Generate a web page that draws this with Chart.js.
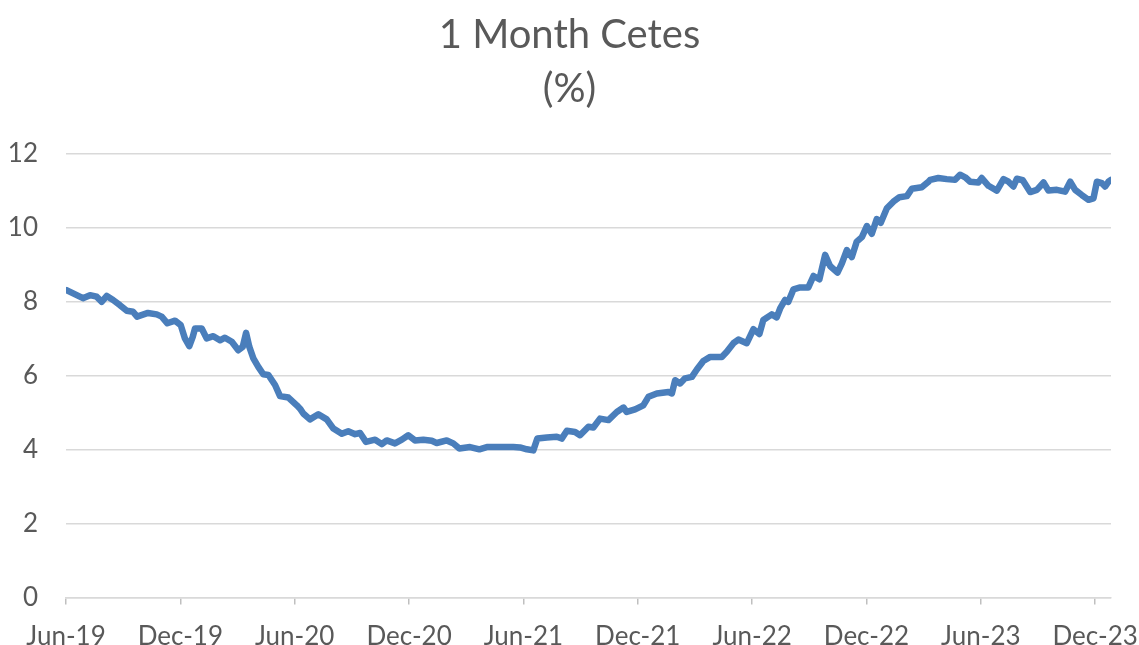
<!DOCTYPE html>
<html>
<head>
<meta charset="utf-8">
<script src="https://cdn.jsdelivr.net/npm/chart.js@4.4.1/dist/chart.umd.min.js"></script>
<style>
  html, body { margin: 0; padding: 0; background: #fff; }
  #wrap { width: 1139px; height: 645px; position: relative; }
</style>
</head>
<body>
<div id="wrap"><canvas id="chart"></canvas></div>
<script>
// x tick labels, one every 6 months starting Jun-19
const tickLabels = ['Jun-19', 'Dec-19', 'Jun-20', 'Dec-20', 'Jun-21', 'Dec-21', 'Jun-22', 'Dec-22', 'Jun-23', 'Dec-23'];

// months elapsed since Jun-2019 for each observation
const months = [
  0, 0.89, 1.26, 1.61, 1.87, 2.14, 2.47, 2.83, 3.19, 3.52, 3.73, 4.30, 4.76, 5.02, 5.32, 5.72,
  6.02, 6.24, 6.47, 6.65, 6.77, 7.12, 7.38, 7.73, 8.08, 8.34, 8.70, 9.04, 9.27, 9.45, 9.62, 9.83,
  10.09, 10.35, 10.62, 10.97, 11.23, 11.67, 12.11, 12.28, 12.45, 12.80, 13.24, 13.68, 14.03, 14.47,
  14.81, 15.17, 15.43, 15.74, 16.22, 16.57, 16.83, 17.26, 17.62, 17.96, 18.31, 18.75, 19.19, 19.45,
  19.98, 20.32, 20.64, 21.20, 21.69, 22.08, 22.78, 23.47, 23.82, 24.18, 24.52, 24.73, 25.23, 25.75,
  26.01, 26.28, 26.71, 26.97, 27.41, 27.67, 28.02, 28.46, 28.90, 29.25, 29.42, 29.86, 30.29, 30.56,
  31.00, 31.61, 31.79, 31.96, 32.22, 32.48, 32.84, 33.10, 33.44, 33.80, 34.41, 34.67, 35.02, 35.28,
  35.72, 36.07, 36.38, 36.59, 37.03, 37.29, 37.47, 37.73, 37.90, 38.17, 38.52, 38.95, 39.22, 39.53,
  39.83, 40.09, 40.48, 40.71, 40.97, 41.23, 41.49, 41.76, 42.02, 42.28, 42.54, 42.75, 43.07, 43.41,
  43.73, 44.12, 44.38, 44.90, 45.25, 45.34, 45.77, 46.21, 46.65, 46.91, 47.18, 47.44, 47.87, 48.05,
  48.40, 48.84, 49.19, 49.45, 49.71, 49.89, 50.20, 50.59, 50.94, 51.29, 51.55, 51.99, 52.42, 52.69,
  52.95, 53.30, 53.65, 53.91, 54.09, 54.35, 54.52, 54.70, 54.83
];

// 1 month Cetes rate, %
const cetes1m = [
  8.32, 8.10, 8.18, 8.14, 8.00, 8.16, 8.05, 7.91, 7.76, 7.73, 7.60, 7.70, 7.66, 7.60, 7.42, 7.49,
  7.37, 7.01, 6.80, 7.05, 7.28, 7.28, 7.01, 7.07, 6.96, 7.03, 6.92, 6.69, 6.78, 7.16, 6.78, 6.47,
  6.24, 6.04, 6.02, 5.75, 5.45, 5.41, 5.20, 5.11, 4.98, 4.82, 4.96, 4.82, 4.57, 4.43,
  4.50, 4.42, 4.45, 4.21, 4.27, 4.15, 4.25, 4.17, 4.27, 4.39, 4.25, 4.27, 4.24, 4.18,
  4.25, 4.17, 4.03, 4.07, 4.01, 4.07, 4.07, 4.07, 4.06, 4.01, 3.98, 4.30, 4.33, 4.35,
  4.30, 4.51, 4.48, 4.39, 4.62, 4.60, 4.84, 4.80, 5.02, 5.14, 5.02, 5.09, 5.20, 5.43,
  5.52, 5.56, 5.52, 5.88, 5.79, 5.93, 5.97, 6.17, 6.40, 6.51, 6.51, 6.65, 6.88, 6.98,
  6.88, 7.26, 7.13, 7.51, 7.66, 7.58, 7.82, 8.05, 8.00, 8.34, 8.39, 8.39, 8.70, 8.61,
  9.27, 8.97, 8.79, 9.04, 9.40, 9.21, 9.63, 9.75, 10.05, 9.84, 10.24, 10.14, 10.53, 10.71,
  10.83, 10.86, 11.06, 11.10, 11.25, 11.30, 11.35, 11.32, 11.30, 11.44, 11.37, 11.25, 11.23, 11.35,
  11.14, 11.01, 11.32, 11.25, 11.12, 11.33, 11.29, 10.97, 11.03, 11.23, 11.01, 11.03, 10.98, 11.25,
  11.03, 10.89, 10.76, 10.80, 11.25, 11.21, 11.12, 11.25, 11.30
];

const yTicks = [0, 2, 4, 6, 8, 10, 12];

const textColor = '#595959';
const fontFamily = 'Lato, "Open Sans", sans-serif';

const points = months.map((m, i) => ({ x: m, y: cetes1m[i] }));

new Chart(document.getElementById('chart'), {
  type: 'line',
  data: {
    datasets: [{
      label: '1 Month Cetes',
      data: points,
      borderColor: '#4a7ebb',
      borderWidth: 6.5,
      pointRadius: 0,
      tension: 0,
      borderJoinStyle: 'round',
      borderCapStyle: 'round',
      fill: false
    }]
  },
  options: {
    responsive: true,
    maintainAspectRatio: false,
    animation: false,
    layout: { padding: { top: 8, right: 0, left: 0, bottom: 0 } },
    plugins: {
      legend: { display: false },
      tooltip: { enabled: false },
      title: {
        display: true,
        text: ['1 Month Cetes', '(%)'],
        color: textColor,
        font: { family: fontFamily, size: 40, weight: 'normal', lineHeight: 54 / 40 },
        padding: { top: 0, bottom: 38 }
      }
    },
    scales: {
      x: {
        type: 'linear',
        min: 0,
        max: months[months.length - 1],
        afterBuildTicks: scale => {
          scale.ticks = tickLabels.map((_, i) => ({ value: i * 6 }));
        },
        // fix the axis box so the plot ends where the reference does
        afterFit: scale => {
          scale.height = 47.5;
          scale.paddingLeft = 0;
          scale.paddingRight = 28;
        },
        ticks: {
          autoSkip: false,
          maxRotation: 0,
          color: textColor,
          font: { family: fontFamily, size: 26, lineHeight: 1 },
          padding: 19,
          callback: v => tickLabels[Math.round(v / 6)]
        },
        grid: {
          drawOnChartArea: false,
          drawTicks: true,
          tickLength: 7,
          color: '#bfbfbf',
          lineWidth: 1.5
        },
        border: { display: true, color: '#d9d9d9', width: 1.5 }
      },
      y: {
        min: 0,
        max: 12,
        afterBuildTicks: scale => {
          scale.ticks = yTicks.map(v => ({ value: v }));
        },
        afterFit: scale => { scale.width = 66; },
        ticks: {
          color: textColor,
          font: { family: fontFamily, size: 26 },
          padding: 28
        },
        grid: { color: '#d9d9d9', lineWidth: 1.5, drawTicks: false },
        border: { display: false }
      }
    }
  }
});
</script>
</body>
</html>
